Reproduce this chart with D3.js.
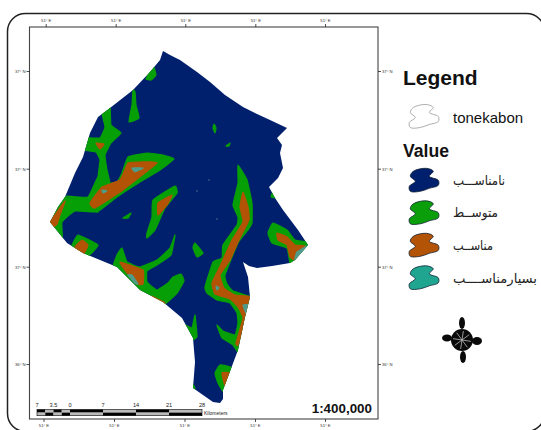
<!DOCTYPE html>
<html><head><meta charset="utf-8">
<script src="https://cdn.jsdelivr.net/npm/d3@7"></script>
<style>html,body{margin:0;padding:0;background:#fff;overflow:hidden}svg{display:block}text{font-family:"Liberation Sans",Arial,sans-serif}</style>
</head><body><svg id="c" width="541" height="430"></svg>
<script>
// Map data in grid units
const boundary=[[163,51],[170,55],[180,60],[197,72],[210,82],[225,95],[243,107],[257,114],[270,120],[287,128],[277,138],[282,145],[280,153],[283,168],[278,178],[269,187],[275,198],[283,210],[298,230],[308,245],[295,260],[290,263],[272,266],[257,268],[249,266],[243,262],[248,277],[250,297],[245,317],[238,350],[223,390],[223,399],[220,403],[213,402],[193,388],[195,362],[193,338],[182,318],[163,302],[140,290],[117,267],[83,253],[67,243],[50,222],[58,207],[65,197],[75,173],[83,157],[90,133],[98,117],[110,108],[133,90],[150,72],[160,60]];
const greenZones=[
 [[150,71],[153,65],[156,75],[151,80],[146,79]],
 [[133,90],[135,92],[136,105],[139,118],[129,122],[132,105]],
 [[102,113],[110,106],[111,125],[121,133],[111,143],[105,155],[107,170],[110,184],[98,180],[100,160],[96,152],[84,150],[86,138],[100,138],[105,127]],
 [[128,157],[147,153],[163,155],[174,159],[160,170],[140,182],[117,197],[97,212],[90,205],[80,200],[66,196],[88,197],[98,177],[110,183],[117,182],[122,173]],
 [[63,197],[90,203],[98,212],[75,211],[62,222],[62,238],[46,222],[56,205]],
 [[153,200],[175,186],[177,193],[165,208],[155,230],[147,238],[147,233],[152,217]],
 [[78,235],[98,245],[88,256],[70,252],[72,245]],
 [[122,248],[127,262],[140,267],[157,260],[170,248],[175,235],[171,255],[157,265],[147,271],[147,282],[157,290],[168,283],[173,277],[181,274],[184,281],[177,293],[163,305],[140,294],[113,270],[117,255]],
 [[195,243],[203,253],[197,257],[193,248]],
 [[238,165],[247,180],[252,203],[252,223],[248,230],[238,243],[225,275],[227,284],[233,291],[253,298],[247,322],[240,354],[233,345],[222,338],[217,325],[223,331],[235,335],[238,323],[237,313],[230,303],[217,300],[207,293],[205,287],[213,262],[222,258],[223,245],[237,225],[238,217],[233,205],[238,183]],
 [[273,223],[287,230],[295,240],[310,243],[296,262],[290,263],[287,248],[272,243],[268,233]],
 [[273,192],[277,198],[271,197]],
 [[220,365],[232,368],[224,392],[218,383],[215,373]],
 [[195,315],[197,337],[191,340],[185,325],[192,328]],
 [[192,383],[195,388],[192,392]],
 [[214,124],[216,128],[215,133],[213,128]],
 [[226,146],[230,143],[229,146]],
 [[123,218],[131,213],[128,218]]
];
const brownZones=[
 [[96,143],[104,144],[100,149]],
 [[50,222],[65,201],[60,215],[57,224],[52,228]],
 [[90,203],[102,187],[120,180],[128,163],[140,162],[157,163],[123,190],[95,208]],
 [[158,203],[172,195],[167,205],[158,215]],
 [[75,247],[82,240],[88,245],[83,255]],
 [[120,262],[143,270],[143,284],[137,284],[127,273]],
 [[152,296],[165,303],[160,303]],
 [[243,192],[248,207],[249,220],[238,242],[230,260],[220,275],[224,288],[235,295],[251,297],[247,318],[238,345],[236,343],[243,318],[238,307],[230,299],[215,294],[212,283],[222,262],[232,240],[243,222],[240,207]],
 [[277,233],[287,237],[295,245],[305,246],[295,260],[290,257],[287,245],[278,240]],
 [[230,373],[222,373],[225,386]]
];
const tealZones=[
 [[132,168],[143,168],[135,172]],
 [[102,190],[107,191],[103,193]],
 [[128,275],[132,275],[138,284],[135,283]],
 [[297,252],[309,245],[295,260]],
 [[243,305],[249,305],[246,313]],
 [[216,286],[219,288],[217,290]]
];
const specks=[[209,180],[197,191],[217,219]];

const lonTicksTop=[45.7,115.7,185.3,255.3,325];
const lonTicksBottom=[43.5,114,184.5,255,325];
const latTicks=[71,168.7,266.7,364];
const lonLabels=["51° E","51° E","51° E","51° E","51° E"];
const latLabels=["37° N","37° N","37° N","36° N"];

const legendNames=["نامناســـب","متوســط","مناســب","بسیارمناســــب"];
const legendWidths=[52,45,40,84];
const legendColors=["#00206e","#0a9e0a","#b35306","#1fa590"];
const patchShape=[[17,0],[24,3],[20,8],[29,12],[29,17],[20,20],[11,23],[1,23],[0,18],[6,13],[1,8],[4,3]];

const scaleBreaks=[-7,-5.25,-3.5,-1.75,0,7,14,21,28];
const scaleLabels=[-7,-3.5,0,7,14,21,28];
const scaleText=["7","3.5","0","7","14","21","28"];

// Layout
const svg=d3.select("#c");
const W={l:29.5,t:27,r:378,b:419};
const x=d3.scaleLinear().domain([29.5,378]).range([W.l,W.r]);
const y=d3.scaleLinear().domain([27,419]).range([W.t,W.b]);
const km=d3.scaleLinear().domain([-7,28]).range([37,202]);
const line=d3.line(d=>x(d[0]),d=>y(d[1]));
const smooth=d3.line(d=>x(d[0]),d=>y(d[1])).curve(d3.curveCardinalClosed.tension(0.65));

// neat line
svg.append("rect").attr("x",7.5).attr("y",13.5).attr("width",537).attr("height",418).attr("rx",18).attr("fill","#fff").attr("stroke","#222").attr("stroke-width",1.5);
svg.append("rect").attr("x",W.l).attr("y",W.t).attr("width",W.r-W.l).attr("height",W.b-W.t).attr("fill","#fff").attr("stroke","#444").attr("stroke-width",1.1);

// map
const defs=svg.append("defs");
defs.append("clipPath").attr("id","bd").append("path").attr("d",line(boundary)+"Z");
const mapG=svg.append("g").style("filter","blur(0.4px)");
mapG.append("path").attr("d",line(boundary)+"Z").attr("fill","#00206e");
const g=mapG.append("g").attr("clip-path","url(#bd)");
const drawZones=(zones,col)=>g.selectAll(null).data(zones).join("path").attr("d",smooth).attr("fill",col).attr("stroke",col).attr("stroke-width",1.2).attr("stroke-linejoin","round");
drawZones(greenZones,"#06a006");
drawZones(brownZones,"#b35306");
drawZones(tealZones,"#4f9c8c");
g.selectAll(null).data(specks).join("circle").attr("cx",d=>x(d[0])).attr("cy",d=>y(d[1])).attr("r",0.9).attr("fill","#2d5a80");

// graticule ticks
const style=a=>{a.select(".domain").remove();a.selectAll("line").attr("stroke","#222").attr("stroke-width",.8);a.selectAll("text").attr("font-size",4.2).attr("fill","#333");};
svg.append("g").attr("transform",`translate(0,${W.t})`).call(d3.axisTop(x).tickValues(lonTicksTop).tickFormat((d,i)=>lonLabels[i]).tickSize(3).tickPadding(2)).call(style);
svg.append("g").attr("transform",`translate(0,${W.b})`).call(d3.axisBottom(x).tickValues(lonTicksBottom).tickFormat((d,i)=>lonLabels[i]).tickSize(3).tickPadding(2)).call(style);
svg.append("g").attr("transform",`translate(${W.l},0)`).call(d3.axisLeft(y).tickValues(latTicks).tickFormat((d,i)=>latLabels[i]).tickSize(3).tickPadding(1)).call(style);
svg.append("g").attr("transform",`translate(${W.r},0)`).call(d3.axisRight(y).tickValues(latTicks).tickFormat((d,i)=>latLabels[i]).tickSize(3).tickPadding(1)).call(style);

// scale bar
const sb=svg.append("g");
const segs=d3.pairs(scaleBreaks);
[0,1].forEach(row=>{
  sb.selectAll(null).data(segs).join("rect")
   .attr("x",d=>km(d[0])).attr("width",d=>km(d[1])-km(d[0]))
   .attr("y",409.5+row*3.1).attr("height",3.1)
   .attr("fill",(d,i)=>(i+row)%2===0?"#000":"#bbb");
});
sb.append("rect").attr("x",km(-7)).attr("y",409.5).attr("width",km(28)-km(-7)).attr("height",6.2).attr("fill","none").attr("stroke","#000").attr("stroke-width",.6);
sb.selectAll(null).data(scaleLabels).join("text").attr("x",d=>km(d)).attr("y",406.5).attr("text-anchor","middle").attr("font-size",5.6).attr("fill","#222").text((d,i)=>scaleText[i]);
sb.append("text").attr("x",204).attr("y",415).attr("font-size",5).attr("fill","#222").text("Kilometers");

svg.append("text").attr("x",372).attr("y",413).attr("text-anchor","end").attr("font-size",13.4).attr("font-weight","bold").attr("fill","#111").text("1:400,000");

// legend
const T=(t,xp,yp,fs,b)=>svg.append("text").attr("x",xp).attr("y",yp).attr("font-size",fs).attr("font-weight",b?"bold":"normal").attr("fill","#111").text(t);
T("Legend",403,85,21,true);
T("tonekabon",453,123,15,false);
T("Value",403,157,17.6,true);
const patch=d3.line(d=>d[0],d=>d[1]).curve(d3.curveCatmullRomClosed.alpha(0.5));
svg.append("path").attr("d",patch(patchShape)).attr("transform","translate(409.3,104.5)").attr("fill","#fff").attr("stroke","#999").attr("stroke-width",.8);
const legendY=[168.3,200.8,233.3,265.8];
const legendBase=[185,217,250,283];
legendNames.forEach((n,i)=>{
  svg.append("path").attr("d",patch(patchShape)).attr("transform",`translate(409.3,${legendY[i]})`).attr("fill",legendColors[i]).attr("stroke","#123").attr("stroke-width",.8);
  svg.append("text").attr("x",453+legendWidths[i]).attr("y",legendBase[i]).attr("text-anchor","start").attr("direction","rtl").attr("font-size",13).attr("fill","#222")
    .style("font-family","'DejaVu Sans'").attr("textLength",legendWidths[i]).attr("lengthAdjust","spacingAndGlyphs").text(n);
});

// north arrow symbol
const na=svg.append("g").attr("transform","translate(462,340)");
na.append("circle").attr("r",11).attr("fill","#0a0a0a");
[[0,-17,3,6],[1,17,3,6],[-15,-2,5,3.5],[15,1,5,4]].forEach(e=>na.append("ellipse").attr("cx",e[0]).attr("cy",e[1]).attr("rx",e[2]).attr("ry",e[3]).attr("fill","#0a0a0a"));
d3.range(8).forEach(i=>{const a=i*Math.PI/4+.15;na.append("line").attr("x1",0).attr("y1",0).attr("x2",9*Math.cos(a)).attr("y2",9*Math.sin(a)).attr("stroke","#bbb").attr("stroke-width",.8);});
</script></body></html>
